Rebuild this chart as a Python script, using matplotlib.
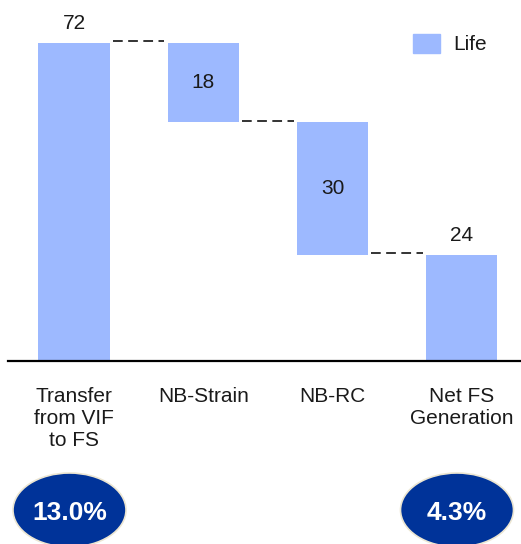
import matplotlib.pyplot as plt
from matplotlib.patches import Ellipse, Rectangle

plt.rcParams['font.family'] = ['Liberation Sans', 'DejaVu Sans']

categories = ['Transfer\nfrom VIF\nto FS', 'NB-Strain', 'NB-RC', 'Net FS\nGeneration']
values = [72, 18, 30, 24]
bottoms = [0, 54, 24, 0]
label_inside = [False, True, True, False]
ratio_labels = ['13.0%', '', '', '4.3%']

bar_color = '#9db9ff'
circle_color = '#003399'

fig = plt.figure(figsize=(5.21, 5.44), dpi=100)
ax = fig.add_axes([8 / 521, 1 - 361 / 544, 513 / 521, 361 / 544])

x = list(range(len(categories)))
ax.bar(x, values, bottom=bottoms, width=0.55, color=bar_color, label='Life')

# value labels
for i, (v, b) in enumerate(zip(values, bottoms)):
    if label_inside[i]:
        ax.text(i, b + v / 2, str(v), ha='center', va='center', fontsize=15, color='#1a1a1a')
    else:
        ax.text(i, b + v + 2.2, str(v), ha='center', va='bottom', fontsize=15, color='#1a1a1a')

# dashed connectors between bars
tops = [b + v for v, b in zip(values, bottoms)]
levels = [tops[0], bottoms[1], bottoms[2]]
for i, lvl in enumerate(levels):
    ax.plot([i + 0.3, i + 0.7], [lvl + 0.4, lvl + 0.4], color='#333333', lw=1.4,
            linestyle=(0, (5, 2.8)))

ax.set_xlim(-0.51, 3.457)
ax.set_ylim(0, 81.7)
ax.set_yticks([])
ax.set_xticks(x)
ax.set_xticklabels(categories, fontsize=15, color='#1a1a1a', linespacing=1.2, va='top')
ax.tick_params(axis='x', length=0, pad=19)
for s in ['top', 'right', 'left']:
    ax.spines[s].set_visible(False)
ax.spines['bottom'].set_linewidth(1.6)
ax.spines['bottom'].set_color('black')

# legend (drawn manually to match the layout)
fig.patches.append(Rectangle((413 / 521, 1 - 53 / 544), 27 / 521, 19 / 544,
                             transform=fig.transFigure, color=bar_color))
fig.text(453 / 521, 1 - 45 / 544, 'Life', fontsize=15, color='#1a1a1a', va='center')

# ellipses with ratios
centers_px = [69.5, 0, 0, 457]
for i, lab in enumerate(ratio_labels):
    if not lab:
        continue
    cx = centers_px[i] / 521
    cy = 1 - 510 / 544
    e = Ellipse((cx, cy), 113 / 521, 74 / 544, transform=fig.transFigure,
                facecolor=circle_color, edgecolor='#ece6d2', lw=1.2)
    fig.patches.append(e)
    fig.text(cx, 1 - 513 / 544, lab, ha='center', va='center', fontsize=19,
             fontweight='bold', color='white')

plt.savefig('out.png', dpi=100)
